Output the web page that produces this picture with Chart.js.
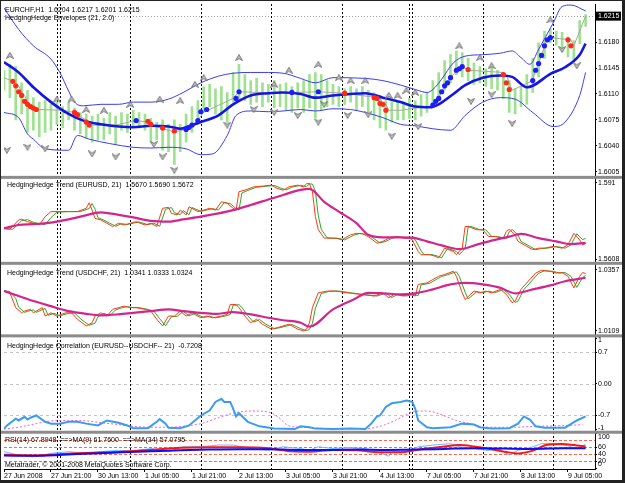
<!DOCTYPE html>
<html>
<head>
<meta charset="utf-8">
<script src="https://cdn.jsdelivr.net/npm/chart.js@4.4.1/dist/chart.umd.min.js"></script>
<style>
  html, body { margin: 0; padding: 0; background: #fff; }
  #wrap { position: relative; width: 625px; height: 483px; }
</style>
</head>
<body>
<div id="wrap"><canvas id="chart" width="625" height="483"></canvas></div>
<script>
// --- time axis (hour bars) ---
const timeLabels = ['27 Jun 2008', '27 Jun 21:00', '30 Jun 13:00', '1 Jul 05:00', '1 Jul 21:00', '2 Jul 13:00',
  '3 Jul 05:00', '3 Jul 21:00', '4 Jul 13:00', '7 Jul 05:00', '7 Jul 21:00', '8 Jul 13:00', '9 Jul 05:00'];
const timeLabelBars = [0, 16, 32, 48, 64, 80, 96, 112, 128, 144, 160, 176, 192];
const daySeparatorBars = [18, 19, 43, 67, 91, 115, 138, 139, 163, 187];

// --- EURCHF H1 price pane ---
const priceBarIdx = Array.from({ length: 100 }, (_, i) => i * 2);
const barHigh = [1.6142, 1.6150, 1.6147, 1.6125, 1.6115, 1.6105, 1.6099, 1.6101, 1.6096, 1.6099,
  1.6093, 1.6099, 1.6091, 1.6085, 1.6083, 1.6080, 1.6083, 1.6077, 1.6085, 1.6080,
  1.6085, 1.6083, 1.6088, 1.6085, 1.6083, 1.6077, 1.6072, 1.6075, 1.6069, 1.6075,
  1.6069, 1.6083, 1.6093, 1.6101, 1.6120, 1.6123, 1.6117, 1.6120, 1.6112, 1.6139,
  1.6150, 1.6136, 1.6128, 1.6131, 1.6125, 1.6123, 1.6128, 1.6123, 1.6125, 1.6120,
  1.6125, 1.6128, 1.6136, 1.6139, 1.6136, 1.6128, 1.6123, 1.6120, 1.6117, 1.6120,
  1.6117, 1.6120, 1.6115, 1.6112, 1.6107, 1.6101, 1.6099, 1.6101, 1.6099, 1.6104,
  1.6101, 1.6109, 1.6112, 1.6128, 1.6139, 1.6155, 1.6163, 1.6168, 1.6166, 1.6158,
  1.6152, 1.6147, 1.6144, 1.6150, 1.6142, 1.6136, 1.6128, 1.6117, 1.6120, 1.6136,
  1.6158, 1.6179, 1.6195, 1.6198, 1.6195, 1.6193, 1.6187, 1.6182, 1.6209, 1.6217];
const barLow = [1.6115, 1.6105, 1.6075, 1.6083, 1.6058, 1.6061, 1.6052, 1.6058, 1.6061, 1.6069,
  1.6064, 1.6075, 1.6061, 1.6056, 1.6050, 1.6045, 1.6048, 1.6048, 1.6056, 1.6042,
  1.6061, 1.6058, 1.6066, 1.6064, 1.6061, 1.6045, 1.6048, 1.6034, 1.6032, 1.6015,
  1.6032, 1.6045, 1.6058, 1.6069, 1.6085, 1.6093, 1.6083, 1.6075, 1.6072, 1.6099,
  1.6104, 1.6101, 1.6096, 1.6099, 1.6093, 1.6099, 1.6091, 1.6093, 1.6088, 1.6085,
  1.6091, 1.6085, 1.6091, 1.6077, 1.6088, 1.6093, 1.6096, 1.6093, 1.6096, 1.6099,
  1.6088, 1.6093, 1.6085, 1.6075, 1.6064, 1.6061, 1.6072, 1.6075, 1.6075, 1.6077,
  1.6075, 1.6080, 1.6085, 1.6093, 1.6104, 1.6115, 1.6125, 1.6136, 1.6133, 1.6128,
  1.6123, 1.6125, 1.6120, 1.6117, 1.6115, 1.6104, 1.6085, 1.6083, 1.6093, 1.6096,
  1.6112, 1.6133, 1.6158, 1.6179, 1.6176, 1.6168, 1.6160, 1.6155, 1.6178, 1.6201];

const maBars = [0, 5, 10, 16, 22, 27, 33, 39, 44, 50, 56, 60, 62, 67, 73, 78, 84, 90, 95, 101,
  106, 112, 118, 123, 129, 135, 140, 145, 148, 153, 157, 163, 169, 173, 178, 180, 186, 191, 196, 198];
const maVals = [1.6153, 1.6139, 1.6119, 1.6099, 1.6083, 1.6074, 1.6069, 1.6066, 1.6065, 1.6067,
  1.6066, 1.6063, 1.6065, 1.6072, 1.6081, 1.6096, 1.6108, 1.6111, 1.6112, 1.6110,
  1.6105, 1.6108, 1.6110, 1.6111, 1.6105, 1.6099, 1.6093, 1.6092, 1.6096, 1.6110,
  1.6122, 1.6132, 1.6135, 1.6133, 1.6119, 1.6121, 1.6137, 1.6146, 1.6163, 1.6178];

const upperBars = [0, 5, 10, 16, 19, 22, 24, 27, 33, 39, 44, 50, 56, 61, 67, 73, 78, 84, 90, 95,
  101, 106, 112, 123, 129, 135, 140, 144, 146, 149, 153, 157, 163, 169, 173, 176, 179, 182, 187, 190, 193, 198];
const upperVals = [1.6226, 1.6197, 1.6175, 1.6157, 1.6139, 1.6114, 1.6099, 1.6094, 1.6096, 1.6096,
  1.6099, 1.6099, 1.6103, 1.6112, 1.6125, 1.6134, 1.6138, 1.6139, 1.6139, 1.6138,
  1.6131, 1.6125, 1.6132, 1.6131, 1.6128, 1.6122, 1.6116, 1.6112, 1.6116, 1.6130,
  1.6152, 1.6161, 1.6163, 1.6165, 1.6168, 1.6159, 1.6150, 1.6170, 1.6206, 1.6228, 1.6230, 1.6222];

const lowerBars = [0, 5, 8, 10, 14, 22, 25, 29, 36, 44, 50, 56, 62, 67, 71, 76, 79, 84, 90, 95,
  101, 106, 112, 118, 123, 129, 135, 140, 146, 152, 157, 163, 169, 174, 180, 187, 191, 196, 198];
const lowerVals = [1.6085, 1.6078, 1.6056, 1.6049, 1.6036, 1.6034, 1.6054, 1.6049, 1.6043, 1.6038,
  1.6037, 1.6038, 1.6036, 1.6028, 1.6029, 1.6054, 1.6081, 1.6087, 1.6086, 1.6087,
  1.6089, 1.6087, 1.6090, 1.6089, 1.6085, 1.6078, 1.6069, 1.6067, 1.6063, 1.6061,
  1.6081, 1.6099, 1.6105, 1.6103, 1.6085, 1.6066, 1.6072, 1.6108, 1.6139];

const closeBars = [0, 3, 5, 6, 7, 8, 9, 10, 11, 12, 20, 24, 25, 29, 30, 38, 45, 49, 50, 54,
  58, 62, 63, 64, 66, 68, 70, 78, 80, 87, 98, 107, 116, 127, 128, 129, 130, 131, 135, 146,
  147, 148, 149, 150, 151, 152, 154, 155, 156, 158, 170, 171, 172, 173, 180, 181, 182, 183, 184, 185,
  186, 193, 194, 198];
const closeVals = [1.6132, 1.6127, 1.6121, 1.6113, 1.6108, 1.6100, 1.6096, 1.6093, 1.6091, 1.6089,
  1.6088, 1.6085, 1.6082, 1.6072, 1.6068, 1.6068, 1.6074, 1.6072, 1.6068, 1.6063,
  1.6059, 1.6062, 1.6065, 1.6068, 1.6074, 1.6086, 1.6089, 1.6104, 1.6113, 1.6112,
  1.6112, 1.6113, 1.6111, 1.6105, 1.6104, 1.6097, 1.6096, 1.6088, 1.6088, 1.6094,
  1.6100, 1.6104, 1.6113, 1.6121, 1.6125, 1.6132, 1.6141, 1.6144, 1.6147, 1.6142,
  1.6139, 1.6136, 1.6125, 1.6115, 1.6128, 1.6142, 1.6151, 1.6162, 1.6175, 1.6183,
  1.6186, 1.6183, 1.6175, 1.6215];

const sellDotBars = [3, 4, 5, 6, 7, 8, 9, 10, 11, 24, 25, 28, 29, 49, 50, 54, 58,
  116, 126, 127, 128, 129, 130, 158, 170, 171, 172, 192, 193];
const sellDotVals = [1.6127, 1.6121, 1.6113, 1.6108, 1.6100, 1.6096, 1.6093, 1.6091, 1.6089,
  1.6085, 1.6082, 1.6072, 1.6068, 1.6073, 1.6069, 1.6064, 1.6060,
  1.6111, 1.6105, 1.6104, 1.6097, 1.6096, 1.6088, 1.6143, 1.6136, 1.6125, 1.6116, 1.6183, 1.6175];
const buyDotBars = [45, 62, 63, 64, 66, 67, 69, 79, 80, 98, 107, 146, 147, 148, 149, 150, 151, 152,
  154, 155, 156, 180, 181, 182, 183, 184, 185, 186];
const buyDotVals = [1.6074, 1.6062, 1.6065, 1.6068, 1.6074, 1.6086, 1.6089, 1.6104, 1.6113, 1.6112, 1.6113,
  1.6095, 1.6100, 1.6104, 1.6113, 1.6121, 1.6125, 1.6132, 1.6142, 1.6144, 1.6147,
  1.6128, 1.6142, 1.6151, 1.6162, 1.6175, 1.6183, 1.6186];

const fractalUpBars = [2, 18, 23, 28, 34, 43, 53, 60, 65, 68, 80, 92, 97, 107, 114, 118, 123, 131, 134, 137,
  140, 155, 162, 166, 186];
const fractalUpVals = [1.6162, 1.6103, 1.6103, 1.6089, 1.6088, 1.6096, 1.6103, 1.6101, 1.6123, 1.6132,
  1.6159, 1.6123, 1.6142, 1.6150, 1.6132, 1.6128, 1.6128, 1.6108, 1.6108, 1.6115,
  1.6112, 1.6175, 1.6159, 1.6148, 1.6210];
const fractalDownBars = [1, 8, 14, 30, 38, 51, 54, 58, 76, 85, 92, 100, 107, 109, 117, 124, 132, 141,
  159, 166, 173, 190, 195];
const fractalDownVals = [1.6034, 1.6038, 1.6036, 1.6029, 1.6025, 1.6042, 1.6025, 1.6007, 1.6068, 1.6089,
  1.6085, 1.6081, 1.6072, 1.6096, 1.6081, 1.6082, 1.6053, 1.6066, 1.6100, 1.6109, 1.6070, 1.6170, 1.6148];

const bidPrice = 1.6215;
const priceTicks = [1.6180, 1.6145, 1.6110, 1.6075, 1.6040, 1.6005];

// --- HedgingHedge Trend (EURUSD, 21) ---
const eurRedBars = [0, 2, 5, 6, 8, 10, 12, 14, 16, 19, 22, 25, 28, 29, 30, 31, 33, 35, 37, 39,
  41, 43, 45, 48, 50, 52, 54, 56, 57, 59, 60, 62, 63, 66, 68, 70, 72, 74, 76, 78,
  79, 80, 82, 85, 88, 91, 93, 95, 97, 100, 102, 103, 104, 105, 106, 107, 109, 111, 113, 115,
  118, 120, 122, 124, 127, 129, 131, 133, 136, 138, 139, 141, 142, 145, 147, 148, 150, 153, 154, 155,
  156, 157, 158, 161, 163, 165, 167, 170, 171, 172, 174, 175, 178, 180, 182, 184, 187, 190, 192, 194,
  196, 197, 198];
const eurRedVals = [1.5730, 1.5726, 1.5763, 1.5766, 1.5756, 1.5750, 1.5743, 1.5776, 1.5796, 1.5796,
  1.5796, 1.5796, 1.5809, 1.5831, 1.5802, 1.5769, 1.5763, 1.5750, 1.5737, 1.5750,
  1.5743, 1.5750, 1.5756, 1.5743, 1.5750, 1.5737, 1.5809, 1.5813, 1.5789, 1.5783,
  1.5802, 1.5783, 1.5815, 1.5796, 1.5802, 1.5809, 1.5802, 1.5835, 1.5829, 1.5809,
  1.5802, 1.5875, 1.5881, 1.5894, 1.5897, 1.5901, 1.5888, 1.5881, 1.5894, 1.5901,
  1.5894, 1.5907, 1.5907, 1.5875, 1.5776, 1.5724, 1.5691, 1.5691, 1.5691, 1.5684,
  1.5704, 1.5710, 1.5708, 1.5697, 1.5671, 1.5678, 1.5691, 1.5697, 1.5691, 1.5691,
  1.5684, 1.5638, 1.5625, 1.5625, 1.5618, 1.5612, 1.5651, 1.5638, 1.5625, 1.5638,
  1.5651, 1.5737, 1.5737, 1.5724, 1.5724, 1.5697, 1.5697, 1.5691, 1.5717, 1.5726,
  1.5704, 1.5678, 1.5658, 1.5645, 1.5651, 1.5651, 1.5658, 1.5651, 1.5664, 1.5710,
  1.5684, 1.5664, 1.5670];
const eurGreenBars = [0, 3, 6, 8, 10, 12, 14, 16, 18, 22, 26, 29, 30, 31, 32, 34, 36, 38, 40, 42,
  44, 46, 49, 51, 53, 55, 57, 58, 60, 61, 63, 64, 67, 69, 71, 73, 75, 77, 79, 80,
  81, 83, 86, 89, 92, 94, 96, 98, 101, 103, 104, 105, 106, 107, 108, 110, 112, 114, 116, 119,
  121, 123, 125, 128, 130, 132, 134, 137, 139, 140, 142, 143, 146, 148, 149, 151, 154, 155, 156, 157,
  158, 159, 162, 164, 166, 168, 171, 172, 173, 175, 176, 179, 181, 183, 185, 188, 191, 193, 195, 197, 198];
const eurGreenVals = [1.5728, 1.5726, 1.5760, 1.5764, 1.5754, 1.5748, 1.5745, 1.5772, 1.5794, 1.5796,
  1.5796, 1.5808, 1.5828, 1.5806, 1.5772, 1.5762, 1.5750, 1.5738, 1.5748, 1.5745,
  1.5750, 1.5755, 1.5744, 1.5750, 1.5738, 1.5805, 1.5812, 1.5792, 1.5784, 1.5800,
  1.5784, 1.5812, 1.5797, 1.5802, 1.5808, 1.5802, 1.5832, 1.5828, 1.5808, 1.5802,
  1.5870, 1.5880, 1.5893, 1.5896, 1.5900, 1.5890, 1.5882, 1.5893, 1.5900, 1.5895,
  1.5906, 1.5905, 1.5878, 1.5780, 1.5726, 1.5692, 1.5690, 1.5690, 1.5684, 1.5702,
  1.5709, 1.5707, 1.5697, 1.5672, 1.5678, 1.5690, 1.5697, 1.5691, 1.5691, 1.5685,
  1.5640, 1.5626, 1.5625, 1.5618, 1.5613, 1.5650, 1.5638, 1.5626, 1.5637, 1.5650,
  1.5735, 1.5737, 1.5724, 1.5724, 1.5698, 1.5697, 1.5690, 1.5716, 1.5725, 1.5703,
  1.5678, 1.5658, 1.5645, 1.5650, 1.5651, 1.5658, 1.5651, 1.5664, 1.5708, 1.5685, 1.5690];
const eurTrendBars = [0, 5, 10, 16, 22, 27, 33, 39, 44, 50, 56, 61, 67, 73, 78, 84, 90, 95, 101, 104,
  109, 114, 120, 124, 129, 135, 139, 144, 149, 155, 161, 166, 172, 176, 182, 188, 193, 198];
const eurTrendVals = [1.5730, 1.5743, 1.5746, 1.5752, 1.5765, 1.5779, 1.5793, 1.5783, 1.5773, 1.5759,
  1.5756, 1.5765, 1.5776, 1.5789, 1.5802, 1.5822, 1.5844, 1.5862, 1.5882, 1.5886,
  1.5835, 1.5796, 1.5750, 1.5704, 1.5694, 1.5694, 1.5693, 1.5678, 1.5662, 1.5647,
  1.5665, 1.5681, 1.5697, 1.5708, 1.5691, 1.5678, 1.5667, 1.5672];
const eurTicks = [1.591, 1.5608];

// --- HedgingHedge Trend (USDCHF, 21) ---
const chfRedBars = [0, 2, 4, 6, 7, 9, 10, 13, 14, 16, 18, 21, 23, 25, 28, 30, 31, 33, 35, 37,
  39, 41, 43, 45, 48, 50, 52, 54, 56, 58, 60, 62, 64, 67, 69, 71, 74, 76, 77, 79,
  80, 82, 84, 86, 88, 91, 93, 95, 97, 100, 102, 103, 104, 105, 107, 110, 113, 117, 121, 126,
  129, 131, 133, 136, 138, 140, 141, 144, 146, 148, 150, 153, 154, 156, 157, 160, 162, 164, 166, 169,
  171, 173, 174, 176, 179, 181, 183, 186, 188, 190, 192, 194, 196, 197, 198];
const chfRedVals = [1.0270, 1.0263, 1.0203, 1.0182, 1.0189, 1.0196, 1.0182, 1.0203, 1.0169, 1.0182,
  1.0169, 1.0182, 1.0182, 1.0156, 1.0129, 1.0142, 1.0169, 1.0182, 1.0169, 1.0196,
  1.0203, 1.0209, 1.0203, 1.0203, 1.0196, 1.0189, 1.0156, 1.0129, 1.0169, 1.0169,
  1.0189, 1.0169, 1.0182, 1.0162, 1.0169, 1.0162, 1.0169, 1.0176, 1.0216, 1.0216,
  1.0203, 1.0169, 1.0142, 1.0156, 1.0136, 1.0116, 1.0122, 1.0129, 1.0136, 1.0116,
  1.0109, 1.0116, 1.0142, 1.0203, 1.0263, 1.0270, 1.0270, 1.0263, 1.0257, 1.0250,
  1.0263, 1.0243, 1.0257, 1.0250, 1.0257, 1.0250, 1.0297, 1.0303, 1.0317, 1.0330,
  1.0337, 1.0350, 1.0330, 1.0263, 1.0236, 1.0270, 1.0263, 1.0270, 1.0263, 1.0277,
  1.0257, 1.0223, 1.0230, 1.0277, 1.0317, 1.0343, 1.0354, 1.0350, 1.0343, 1.0345,
  1.0330, 1.0283, 1.0330, 1.0345, 1.0341];
const chfGreenBars = [0, 2, 4, 5, 7, 8, 10, 11, 14, 15, 17, 19, 22, 24, 26, 29, 31, 32, 34, 36,
  38, 40, 42, 44, 46, 49, 51, 53, 55, 57, 59, 61, 63, 65, 68, 70, 72, 75, 77, 78,
  80, 81, 83, 85, 87, 89, 92, 94, 96, 98, 101, 103, 104, 105, 106, 108, 111, 114, 118, 122,
  127, 130, 132, 134, 137, 139, 141, 142, 145, 147, 149, 151, 154, 155, 157, 158, 161, 163, 165, 167,
  170, 172, 174, 175, 177, 180, 182, 184, 187, 189, 191, 193, 195, 197, 198];
const chfGreenVals = [1.0272, 1.0268, 1.0240, 1.0205, 1.0184, 1.0188, 1.0194, 1.0184, 1.0200, 1.0172,
  1.0180, 1.0170, 1.0180, 1.0182, 1.0158, 1.0132, 1.0140, 1.0166, 1.0180, 1.0170,
  1.0194, 1.0202, 1.0207, 1.0203, 1.0203, 1.0196, 1.0189, 1.0158, 1.0130, 1.0166,
  1.0168, 1.0188, 1.0170, 1.0180, 1.0163, 1.0168, 1.0162, 1.0168, 1.0175, 1.0212,
  1.0215, 1.0204, 1.0170, 1.0144, 1.0155, 1.0137, 1.0118, 1.0122, 1.0128, 1.0135,
  1.0118, 1.0110, 1.0115, 1.0140, 1.0200, 1.0260, 1.0270, 1.0270, 1.0263, 1.0257,
  1.0250, 1.0262, 1.0244, 1.0256, 1.0250, 1.0256, 1.0252, 1.0295, 1.0302, 1.0316,
  1.0329, 1.0336, 1.0348, 1.0330, 1.0265, 1.0238, 1.0268, 1.0263, 1.0270, 1.0263,
  1.0276, 1.0257, 1.0224, 1.0230, 1.0276, 1.0316, 1.0342, 1.0352, 1.0350, 1.0343,
  1.0345, 1.0330, 1.0285, 1.0325, 1.0333];
const chfTrendBars = [0, 5, 10, 16, 22, 28, 33, 39, 44, 50, 56, 61, 67, 72, 78, 84, 90, 95, 101, 104,
  112, 119, 124, 129, 135, 140, 146, 152, 157, 163, 169, 174, 180, 186, 191, 198];
const chfTrendVals = [1.0270, 1.0250, 1.0230, 1.0209, 1.0189, 1.0178, 1.0172, 1.0176, 1.0182, 1.0189,
  1.0196, 1.0189, 1.0182, 1.0178, 1.0185, 1.0176, 1.0162, 1.0152, 1.0142, 1.0126,
  1.0196, 1.0236, 1.0263, 1.0261, 1.0257, 1.0261, 1.0277, 1.0297, 1.0303, 1.0297,
  1.0283, 1.0261, 1.0277, 1.0293, 1.0310, 1.0324];
const chfTicks = [1.0357, 1.0109];

// --- HedgingHedge Correlation (EURUSD--USDCHF-- 21) ---
const corrBars = [0, 1, 4, 5, 7, 8, 9, 11, 14, 16, 19, 22, 25, 28, 32, 35, 39, 42, 44, 49,
  52, 53, 55, 56, 60, 63, 67, 70, 72, 74, 75, 77, 78, 79, 80, 83, 87, 92, 99, 101,
  104, 106, 112, 118, 123, 125, 127, 128, 130, 132, 135, 137, 139, 140, 141, 144, 146, 152, 156, 160,
  162, 166, 172, 175, 177, 179, 181, 184, 191, 195, 198];
const corrVals = [-0.99, -0.92, -0.77, -0.81, -0.73, -0.79, -0.75, -0.70, -0.84, -0.88,
  -0.88, -0.84, -0.84, -0.88, -0.92, -0.81, -0.86, -0.92, -0.98, -0.98,
  -0.84, -0.78, -0.88, -0.97, -0.98, -0.92, -0.70, -0.59, -0.40, -0.33,
  -0.40, -0.40, -0.55, -0.72, -0.65, -0.84, -0.94, -0.99, -1.0, -0.94,
  -0.96, -0.99, -1.0, -0.99, -1.0, -0.88, -0.72, -0.70, -0.51, -0.43,
  -0.40, -0.37, -0.40, -0.55, -0.81, -0.96, -0.98, -0.96, -0.88, -0.90,
  -0.96, -0.99, -0.98, -0.88, -0.72, -0.79, -0.94, -0.97, -0.97, -0.81, -0.72];
const corrMaBars = [0, 5, 11, 16, 22, 28, 33, 39, 44, 50, 56, 61, 67, 73, 78, 84, 90, 93, 97, 101,
  112, 123, 129, 135, 139, 144, 148, 154, 160, 163, 169, 174, 180, 187, 192, 197];
const corrMaVals = [-1.0, -0.96, -0.88, -0.82, -0.81, -0.82, -0.86, -0.90, -0.94, -0.96,
  -0.96, -0.94, -0.88, -0.75, -0.65, -0.60, -0.62, -0.72, -0.93, -0.96,
  -0.99, -0.99, -0.92, -0.75, -0.62, -0.60, -0.66, -0.81, -0.90, -0.96,
  -0.96, -0.96, -0.94, -0.93, -0.92, -0.90];
const corrTicks = [1, 0.7, 0, -0.7, -1];
const corrTickLabels = ['1', '0.7', '0.00', '-0.7', '-1'];
const corrLevels = [0.7, 0, -0.7];

// --- RSI(14) with MA(9) and MA(34) ---
const rsiBars = [0, 5, 10, 16, 22, 28, 33, 39, 44, 50, 56, 61, 67, 73, 78, 84, 90, 95, 101, 104,
  107, 112, 118, 123, 127, 131, 132, 137, 141, 146, 152, 155, 160, 164, 169, 172, 175, 180, 183, 187,
  191, 195, 198];
const rsiVals = [47, 37, 32, 42, 47, 42, 47, 51, 49, 56, 47, 61, 61, 66, 66, 56, 51, 61, 56, 51,
  61, 56, 59, 56, 47, 34, 47, 47, 61, 66, 70, 61, 56, 51, 53, 37, 51, 61, 70, 70,
  66, 56, 67.9];
const rsiMa9Bars = [0, 10, 20, 30, 40, 50, 60, 70, 80, 90, 98, 104, 112, 120, 128, 135, 142, 150, 155, 160,
  166, 171, 175, 180, 185, 190, 194, 198];
const rsiMa9Vals = [38, 36, 40, 44, 47, 52, 58, 60, 60, 57, 48, 47, 52, 51, 45, 45, 54, 62, 66, 62,
  54, 46, 42, 50, 67, 69, 66, 61.8];
const rsiMa34Bars = [0, 10, 20, 30, 40, 50, 60, 70, 80, 90, 100, 110, 120, 130, 140, 150, 160, 170, 180, 190, 198];
const rsiMa34Vals = [36, 35, 38, 42, 45, 48, 51, 53, 54, 54, 52, 52, 53, 52, 53, 55, 57, 56, 55, 57, 57.1];
const rsiTicks = [100, 60, 40, 20, 0];
const rsiLevels = [80, 60, 40, 20];

// --- pane texts ---
const paneTitles = [
  { axis: 'yPrice', dx: 1, dy: 6, text: 'EURCHF,H1  1.6204 1.6217 1.6201 1.6215' },
  { axis: 'yPrice', dx: 1, dy: 14.5, text: 'HedgingHedge Envelopes (21, 2.0)' },
  { axis: 'yEur', dx: 3, dy: 8, text: 'HedgingHedge Trend (EURUSD, 21)  1.5670 1.5690 1.5672' },
  { axis: 'yChf', dx: 3, dy: 9.5, text: 'HedgingHedge Trend (USDCHF, 21)  1.0341 1.0333 1.0324' },
  { axis: 'yCorr', dx: 3, dy: 10, text: 'HedgingHedge Correlation (EURUSD--USDCHF-- 21)  -0.7208' },
  { axis: 'yRsi', dx: 1, dy: 8, text: 'RSI(14) 67.8948  ==>MA(9) 61.7600  ==>MA(34) 57.0795' }
];
const copyright = 'Metatrader, \u00a9 2001-2008 MetaQuotes Software Corp.';

const FONT = "7px 'Liberation Sans', Arial, sans-serif";
Chart.defaults.font.family = "'Liberation Sans', Arial, sans-serif";
Chart.defaults.font.size = 7;
Chart.defaults.color = '#000';

const pts = (bars, vals) => bars.map((b, i) => ({ x: b, y: vals[i] }));

// grey fractal arrow glyph
function arrowGlyph(up) {
  const c = document.createElement('canvas');
  c.width = 8; c.height = 7;
  const g = c.getContext('2d');
  g.beginPath();
  if (up) {
    g.moveTo(4, 0.5); g.lineTo(7.5, 6.5); g.lineTo(4, 4.5); g.lineTo(0.5, 6.5);
  } else {
    g.moveTo(4, 6.5); g.lineTo(7.5, 0.5); g.lineTo(4, 2.5); g.lineTo(0.5, 0.5);
  }
  g.closePath();
  g.fillStyle = '#c4c4c4';
  g.fill();
  g.strokeStyle = '#777';
  g.lineWidth = 1;
  g.stroke();
  return c;
}

function line(axis, bars, vals, color, width, extra) {
  return Object.assign({
    type: 'line', yAxisID: axis, data: pts(bars, vals),
    borderColor: color, borderWidth: width, pointRadius: 0, fill: false, tension: 0
  }, extra || {});
}

function dots(axis, bars, vals, color, extra) {
  return Object.assign({
    type: 'scatter', yAxisID: axis, data: pts(bars, vals),
    pointRadius: 2.6, pointBackgroundColor: color, pointBorderWidth: 0
  }, extra || {});
}

const smooth = { cubicInterpolationMode: 'monotone' };

const datasets = [
  // price pane
  {
    type: 'bar', yAxisID: 'yPrice', order: 30, grouped: false,
    data: priceBarIdx.map((b, i) => ({ x: b, y: [barLow[i], barHigh[i]] })),
    backgroundColor: '#9ee28f', barThickness: 2, borderWidth: 0
  },
  line('yPrice', upperBars, upperVals, '#3c3cf2', 1, Object.assign({ order: 25 }, smooth)),
  line('yPrice', lowerBars, lowerVals, '#3c3cf2', 1, Object.assign({ order: 25 }, smooth)),
  line('yPrice', closeBars, closeVals, '#a6a6a6', 1, { order: 24 }),
  line('yPrice', maBars, maVals, '#1414e6', 2.6, Object.assign({ order: 22 }, smooth)),
  dots('yPrice', sellDotBars, sellDotVals, '#ff2a1a', { order: 20 }),
  dots('yPrice', buyDotBars, buyDotVals, '#1c1cff', { order: 20 }),
  dots('yPrice', fractalUpBars, fractalUpVals, '#999', { order: 19, pointStyle: arrowGlyph(true) }),
  dots('yPrice', fractalDownBars, fractalDownVals, '#999', { order: 19, pointStyle: arrowGlyph(false) }),
  // EURUSD trend pane
  line('yEur', eurGreenBars, eurGreenVals, '#2fa52f', 1, { order: 15 }),
  line('yEur', eurRedBars, eurRedVals, '#ff3a10', 1, { order: 14 }),
  line('yEur', eurTrendBars, eurTrendVals, '#d2268e', 2.2, Object.assign({ order: 13 }, smooth)),
  // USDCHF trend pane
  line('yChf', chfGreenBars, chfGreenVals, '#2fa52f', 1, { order: 15 }),
  line('yChf', chfRedBars, chfRedVals, '#ff3a10', 1, { order: 14 }),
  line('yChf', chfTrendBars, chfTrendVals, '#d2268e', 2.2, Object.assign({ order: 13 }, smooth)),
  // correlation pane
  line('yCorr', corrMaBars, corrMaVals, '#ee5cee', 1, Object.assign({ order: 12, borderDash: [2, 2] }, smooth)),
  line('yCorr', corrBars, corrVals, '#3a9cf0', 2, { order: 11 }),
  // RSI pane
  line('yRsi', rsiBars, rsiVals, '#6cb8fa', 1, { order: 10 }),
  line('yRsi', rsiMa9Bars, rsiMa9Vals, '#ff1414', 2, Object.assign({ order: 9 }, smooth)),
  line('yRsi', rsiMa34Bars, rsiMa34Vals, '#0c0cff', 2, Object.assign({ order: 8 }, smooth))
];

function paneAxis(min, max, weight, rank, ticks) {
  return {
    type: 'linear', position: 'right', stack: 'panes', stackWeight: weight, weight: rank,
    min: min, max: max, bounds: 'data',
    afterBuildTicks: s => { s.ticks = ticks.map(v => ({ value: v })); },
    afterFit: s => { s.width = 27; },
    ticks: { display: false },
    grid: { drawOnChartArea: false, drawTicks: true, tickLength: 2, color: '#000' },
    border: { display: true, color: '#000', width: 1 }
  };
}

const yLabelSets = [
  { axis: 'yPrice', ticks: priceTicks, labels: priceTicks.map(v => v.toFixed(4)) },
  { axis: 'yEur', ticks: eurTicks, labels: eurTicks.map(v => String(v)) },
  { axis: 'yChf', ticks: chfTicks, labels: chfTicks.map(v => String(v)) },
  { axis: 'yCorr', ticks: corrTicks, labels: corrTickLabels },
  { axis: 'yRsi', ticks: rsiTicks, labels: rsiTicks.map(v => String(v)) }
];

// --- under the data: day separators, level lines, bid line ---
const underlay = {
  id: 'underlay',
  beforeDatasetsDraw(chart) {
    const { ctx, chartArea: a, scales } = chart;
    ctx.save();
    ctx.lineWidth = 1;

    ctx.strokeStyle = '#c4c4c4';
    ctx.setLineDash([3, 3]);
    corrLevels.forEach(v => {
      const y = Math.round(scales.yCorr.getPixelForValue(v)) + 0.5;
      ctx.beginPath(); ctx.moveTo(a.left, y); ctx.lineTo(a.right, y); ctx.stroke();
    });

    ctx.strokeStyle = '#f26a50';
    ctx.setLineDash([3, 2]);
    rsiLevels.forEach(v => {
      const y = Math.round(scales.yRsi.getPixelForValue(v)) + 0.5;
      ctx.beginPath(); ctx.moveTo(a.left, y); ctx.lineTo(a.right, y); ctx.stroke();
    });

    ctx.strokeStyle = '#9a9a9a';
    ctx.setLineDash([1, 2]);
    const by = Math.round(scales.yPrice.getPixelForValue(bidPrice)) + 0.5;
    ctx.beginPath(); ctx.moveTo(a.left, by); ctx.lineTo(a.right, by); ctx.stroke();

    ctx.strokeStyle = '#000';
    ctx.setLineDash([2, 2]);
    daySeparatorBars.forEach(b => {
      const x = Math.round(scales.x.getPixelForValue(b)) + 0.5;
      ctx.beginPath(); ctx.moveTo(x, a.top); ctx.lineTo(x, a.bottom); ctx.stroke();
    });
    ctx.restore();
  }
};

// --- over everything: pane separators, texts, axis labels, frame ---
const overlay = {
  id: 'overlay',
  afterDraw(chart) {
    const { ctx, chartArea: a, scales } = chart;
    const W = chart.width, H = chart.height;
    ctx.save();

    ['yPrice', 'yEur', 'yChf', 'yCorr'].forEach(id => {
      const b = scales[id].bottom;
      ctx.fillStyle = '#8c8c8c';
      ctx.fillRect(0, b - 1.5, W - 3, 3);
    });

    ctx.font = FONT;
    ctx.textBaseline = 'middle';
    ctx.textAlign = 'left';
    ctx.fillStyle = '#000';
    paneTitles.forEach(t => ctx.fillText(t.text, a.left + t.dx, scales[t.axis].top + t.dy));
    ctx.fillText(copyright, a.left + 1, scales.yRsi.bottom - 3.5);

    yLabelSets.forEach(set => {
      const s = scales[set.axis];
      set.ticks.forEach((v, i) => {
        let y = s.getPixelForValue(v);
        y = Math.min(Math.max(y, s.top + 4.5), s.bottom - 4.5);
        ctx.fillText(set.labels[i], s.left + 3, y);
      });
    });

    // bid price box
    const p = scales.yPrice;
    const by = p.getPixelForValue(bidPrice);
    ctx.fillStyle = '#000';
    ctx.fillRect(p.left + 1, by - 4.5, 25, 9);
    ctx.fillStyle = '#fff';
    ctx.fillText(bidPrice.toFixed(4), p.left + 3, by);

    // window frame
    ctx.fillStyle = '#222';
    ctx.fillRect(0, 0, W, 1);
    ctx.fillRect(0, 0, 1, H);
    ctx.fillRect(W - 3, 0, 3, H);
    ctx.fillRect(0, H - 3, W, 3);
    ctx.restore();
  }
};

new Chart(document.getElementById('chart'), {
  type: 'line',
  data: { datasets: datasets },
  options: {
    responsive: false,
    animation: false,
    events: [],
    layout: { padding: { left: 2, top: 1, right: 3, bottom: 3 } },
    plugins: { legend: { display: false }, tooltip: { enabled: false } },
    scales: {
      x: {
        type: 'linear', position: 'bottom', min: 0, max: 201.2, bounds: 'data',
        offset: false,
        afterBuildTicks: s => { s.ticks = timeLabelBars.map(v => ({ value: v })); },
        afterFit: s => { s.height = 11; },
        ticks: {
          callback: (v, i) => timeLabels[i],
          align: 'start', maxRotation: 0, minRotation: 0, autoSkip: false,
          padding: 0, color: '#000', font: { size: 7 }
        },
        grid: { drawOnChartArea: false, drawTicks: true, tickLength: 3, color: '#000', offset: false },
        border: { display: true, color: '#000', width: 1 }
      },
      yPrice: paneAxis(1.59974, 1.62314, 174.5, 0, priceTicks.concat([bidPrice])),
      yEur: paneAxis(1.55909, 1.59317, 86.5, 1, eurTicks),
      yChf: paneAxis(1.00889, 1.03823, 73, 2, chfTicks),
      yCorr: paneAxis(-1.0703, 1.0615, 97, 3, corrTicks),
      yRsi: paneAxis(-2.86, 102.86, 37, 4, rsiTicks)
    }
  },
  plugins: [underlay, overlay]
});
</script>
</body>
</html>
